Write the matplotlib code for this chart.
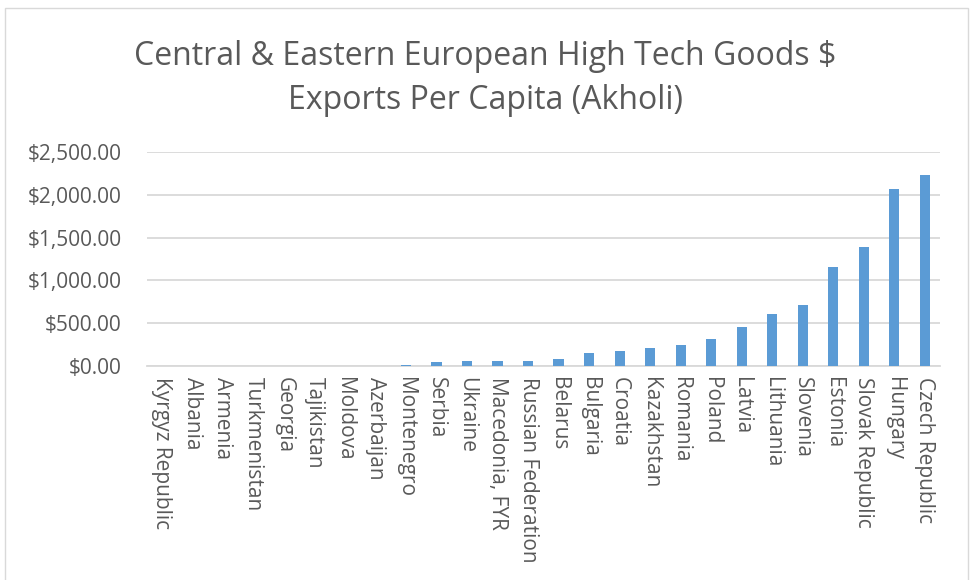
import matplotlib.pyplot as plt
from matplotlib.patches import Rectangle
from matplotlib.ticker import FuncFormatter

countries = ['Kyrgyz Republic', 'Albania', 'Armenia', 'Turkmenistan', 'Georgia',
             'Tajikistan', 'Moldova', 'Azerbaijan', 'Montenegro', 'Serbia',
             'Ukraine', 'Macedonia, FYR', 'Russian Federation', 'Belarus',
             'Bulgaria', 'Croatia', 'Kazakhstan', 'Romania', 'Poland', 'Latvia',
             'Lithuania', 'Slovenia', 'Estonia', 'Slovak Republic', 'Hungary',
             'Czech Republic']
exports_per_capita = [0.5, 1, 1.5, 1, 3, 2, 3, 3, 12, 50, 56, 57, 58, 78,
                      156, 180, 211, 246, 316, 457, 602, 711, 1160, 1395,
                      2066, 2227]

plt.rcParams['font.family'] = ['Open Sans', 'DejaVu Sans']
text_gray = '#595959'

fig = plt.figure(figsize=(9.71, 5.80), dpi=100)
ax = fig.add_axes([0.151, 0.369, 0.817, 0.369])

# chart frame
fig.patches.append(Rectangle((5 / 971, -0.05), 963 / 971, 1 - 8 / 580 + 0.05,
                             transform=fig.transFigure, fill=False,
                             edgecolor='#D9D9D9', linewidth=1))

x = range(len(countries))
ax.bar(x, exports_per_capita, width=0.33, color='#5B9BD5', zorder=3)

ax.set_xlim(-0.5, len(countries) - 0.5)
ax.set_ylim(0, 2500)
ax.set_yticks(range(0, 2501, 500))
ax.yaxis.set_major_formatter(FuncFormatter(lambda v, p: f'${v:,.2f}'))
ax.grid(axis='y', color='#D9D9D9', linewidth=1.3, zorder=0)
ax.set_xticks(list(x))
ax.set_xticklabels(countries, rotation=-90, ha='center', va='top')

for side in ['top', 'right', 'left']:
    ax.spines[side].set_visible(False)
ax.spines['bottom'].set_color('#D9D9D9')
ax.spines['bottom'].set_linewidth(1.3)
ax.tick_params(axis='both', length=0, colors=text_gray, labelsize=15)
ax.tick_params(axis='y', pad=18)
ax.tick_params(axis='x', pad=8)

fig.text(0.5, 0.865, 'Central & Eastern European High Tech Goods $\nExports Per Capita (Akholi)',
         ha='center', va='center', fontsize=23, color=text_gray, linespacing=1.45)

fig.savefig('out.png', dpi=100)
